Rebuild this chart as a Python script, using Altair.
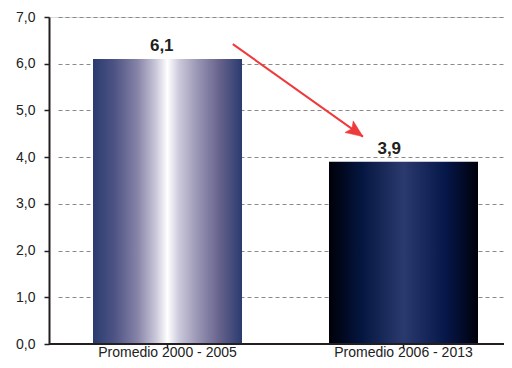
import altair as alt
import pandas as pd

categories = ["Promedio 2000 - 2005", "Promedio 2006 - 2013"]
values = [6.1, 3.9]
value_labels = ["6,1", "3,9"]

# annotation arrow (x as fraction of plot width, y in data units)
arrow_x = [0.404, 0.690]
arrow_y = [6.42, 4.44]

y_domain = [0, 7]
y_ticks = [0, 1, 2, 3, 4, 5, 6, 7]

df = pd.DataFrame({"cat": categories, "value": values, "label": value_labels})
arrow_df = pd.DataFrame({"x": [arrow_x[0]], "x2": [arrow_x[1]], "y": [arrow_y[0]], "y2": [arrow_y[1]]})
tip_df = pd.DataFrame({"x": [arrow_x[1]], "y": [arrow_y[1]]})

FONT = "Liberation Sans"
AX = "#231f20"

grad1 = alt.Gradient(
    gradient="linear", x1=0, x2=1, y1=0, y2=0,
    stops=[
        alt.GradientStop(color="#2a3b6f", offset=0),
        alt.GradientStop(color="#4f5585", offset=0.15),
        alt.GradientStop(color="#8784a8", offset=0.3),
        alt.GradientStop(color="#c8c6d8", offset=0.42),
        alt.GradientStop(color="#ffffff", offset=0.5),
        alt.GradientStop(color="#cac8da", offset=0.58),
        alt.GradientStop(color="#9a96b5", offset=0.7),
        alt.GradientStop(color="#66628c", offset=0.85),
        alt.GradientStop(color="#2a3b6f", offset=1),
    ],
)
grad2 = alt.Gradient(
    gradient="linear", x1=0, x2=1, y1=0, y2=0,
    stops=[
        alt.GradientStop(color="#000008", offset=0),
        alt.GradientStop(color="#041640", offset=0.22),
        alt.GradientStop(color="#2b3a6e", offset=0.5),
        alt.GradientStop(color="#06174a", offset=0.78),
        alt.GradientStop(color="#00000a", offset=1),
    ],
)

xscale = alt.Scale(domain=categories, range=[9, 464], paddingInner=0.3686, paddingOuter=0.1483)
yscale = alt.Scale(domain=y_domain, nice=False)

x_axis_enc = alt.X(
    "cat:N", scale=xscale, sort=categories, title=None,
    axis=alt.Axis(labelAngle=0, domain=False, ticks=True, tickSize=4, tickColor=AX, tickWidth=1.5,
                  labelPadding=8, labelBaseline="alphabetic", labelFont=FONT, labelFontSize=14,
                  labelColor="#222222", grid=False),
)
x_noaxis = alt.X("cat:N", scale=xscale, sort=categories, title=None, axis=None)
y_axis = alt.Axis(values=y_ticks,
                  labelExpr="replace(format(datum.value, '.1f'), '.', ',')",
                  domain=True, domainColor=AX, domainWidth=2,
                  ticks=True, tickSize=5, tickColor=AX, tickWidth=1.5,
                  labelPadding=9, labelFont=FONT, labelFontSize=14, labelColor="#222222",
                  grid=True, gridColor="#8a8a8a", gridDash=[4, 3], gridWidth=1)


def y_enc(field="value"):
    return alt.Y(f"{field}:Q", scale=yscale, title=None, axis=y_axis)


bar1 = alt.Chart(df).transform_filter(alt.datum.cat == categories[0]).mark_bar(color=grad1).encode(x=x_axis_enc, y=y_enc())
bar2 = alt.Chart(df).transform_filter(alt.datum.cat == categories[1]).mark_bar(color=grad2).encode(x=x_noaxis, y=y_enc())

labels = alt.Chart(df).mark_text(font=FONT, fontSize=17, fontWeight="bold", color=AX,
                                 baseline="bottom", dy=-4, dx=-10).encode(
    x=x_noaxis, y=y_enc(), text="label:N")

baseline = alt.Chart(df).mark_rule(color=AX, strokeWidth=2).encode(y=alt.datum(0))

ax_scale = alt.Scale(domain=[0, 1], nice=False, zero=False)
arrow_line = alt.Chart(arrow_df).mark_rule(color="#ee3a3a", strokeWidth=2).encode(
    x=alt.X("x:Q", scale=ax_scale, axis=None), x2="x2:Q",
    y=y_enc("y"), y2="y2:Q")
arrow_head = alt.Chart(tip_df).mark_point(
    shape="M0,0 L-1,-0.42 L-0.8,0 L-1,0.42 Z", size=1156, angle=35.5,
    filled=True, fill="#ee3a3a", stroke="#ee3a3a", strokeWidth=0.5, opacity=1).encode(
    x=alt.X("x:Q", scale=ax_scale, axis=None), y=y_enc("y"))

chart = alt.layer(bar1, bar2, baseline, labels, arrow_line, arrow_head).resolve_scale(x="independent").properties(
    width=455, height=327,
    autosize=alt.AutoSizeParams(type="none"),
    padding={"left": 41, "top": 9, "right": 0, "bottom": 16},
).configure_view(stroke=None).configure(background="white")

chart.save("out.html", embed_options={"renderer": "svg", "actions": False})
